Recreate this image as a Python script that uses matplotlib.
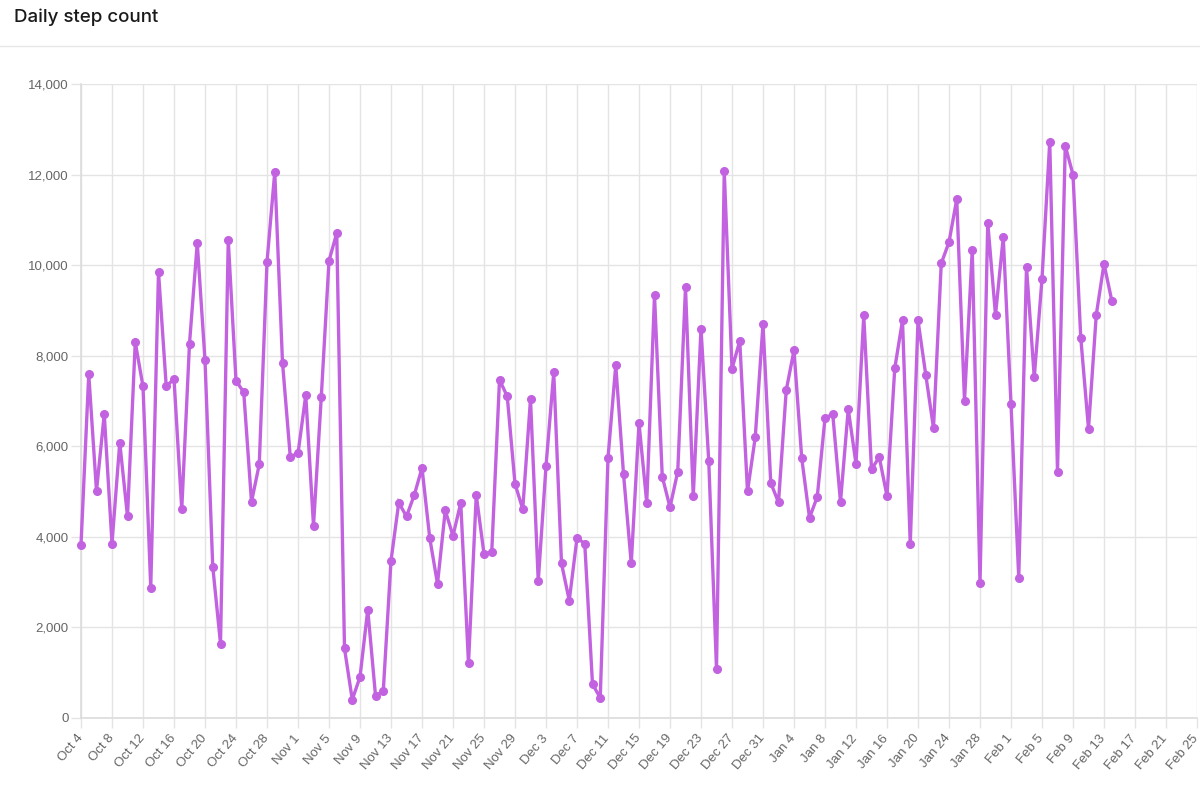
import numpy as np
import pandas as pd
import matplotlib
matplotlib.use("Agg")
from matplotlib import pyplot as plt
import matplotlib.dates as mdates
import matplotlib.transforms as mtrans

# dane: kroki dziennie od 4 paź do 14 lut
start = "2022-10-04"
steps = [
    3820, 7590, 5010, 6710, 3850, 6080, 4450, 8300, 7320, 2870,
    9850, 7320, 7490, 4610, 8270, 10490, 7900, 3340, 1640, 10550,
    7450, 7190, 4770, 5600, 10070, 12060, 7850, 5770, 5840, 7130,
    4240, 7080, 10100, 10710, 1530, 400, 900, 2390, 490, 580,
    3470, 4750, 4450, 4920, 5520, 3970, 2960, 4580, 4020, 4750,
    1200, 4920, 3620, 3660, 7470, 7100, 5170, 4610, 7040, 3020,
    5560, 7630, 3410, 2590, 3970, 3850, 740, 440, 5740, 7790,
    5390, 3410, 6510, 4750, 9340, 5330, 4650, 5440, 9510, 4890,
    8600, 5670, 1080, 12080, 7710, 8330, 5000, 6200, 8700, 5190,
    4760, 7240, 8120, 5730, 4420, 4880, 6620, 6710, 4770, 6820,
    5610, 8890, 5490, 5760, 4900, 7720, 8780, 3840, 8780, 7580,
    6400, 10040, 10510, 11460, 7000, 10340, 2980, 10940, 8900, 10620,
    6930, 3090, 9960, 7520, 9700, 12730, 5440, 12640, 12000, 8400,
    6390, 8900, 10030, 9220,
]
x_end = "2023-02-25"
y_ticks = [0, 2000, 4000, 6000, 8000, 10000, 12000, 14000]

days = pd.date_range(start, periods=len(steps), freq="D")
ticks = pd.date_range(start, x_end, freq="4D")

plt.rcParams["font.family"] = ["Liberation Sans", "DejaVu Sans"]

fig = plt.figure(figsize=(12, 7.85), dpi=100)
ax = fig.add_axes([0.0675, 0.0857, 0.93, 0.807])

color = "#c262e0"
grid_c = "#e4e4e4"

ax.plot(days, steps, color=color, lw=2.4, marker="o", ms=5.5,
        solid_joinstyle="miter", zorder=3, clip_on=False)

ax.set_xlim(ticks[0], ticks[-1])
ax.set_ylim(0, 14000)
ax.set_xticks(ticks)
ax.xaxis.set_major_formatter(mdates.DateFormatter("%b %-d"))
ax.set_yticks(y_ticks)
ax.set_yticklabels([f"{v:,}" for v in y_ticks])

ax.grid(True, color=grid_c, lw=1)
ax.tick_params(axis="both", colors=grid_c, length=7, width=1,
               labelcolor="#666666", labelsize=9.5)
ax.tick_params(axis="y", pad=2)
shift = mtrans.ScaledTranslation(-5 / 100, 0, fig.dpi_scale_trans)
for lab in ax.get_xticklabels():
    lab.set_rotation(50)
    lab.set_ha("right")
    lab.set_rotation_mode("anchor")
    lab.set_transform(lab.get_transform() + shift)

for side in ["top", "right"]:
    ax.spines[side].set_visible(False)
for side in ["left", "bottom"]:
    ax.spines[side].set_color("#dcdcdc")
    ax.spines[side].set_linewidth(1.2)

fig.text(14 / 1200, 1 - 17 / 785, "Daily step count", fontsize=13.5,
         fontweight="medium", color="#1a1a1a", va="center", ha="left",
         family=["Inter", "DejaVu Sans"])
fig.add_artist(plt.Line2D([0, 1], [1 - 46 / 785] * 2, color="#e6e6e6", lw=1))

fig.savefig("out.png", dpi=100)
